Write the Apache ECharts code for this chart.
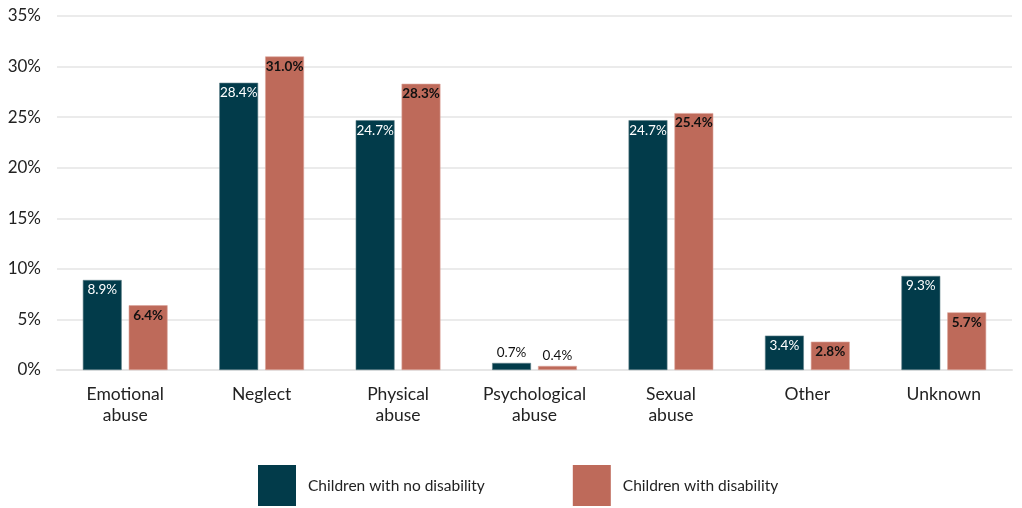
<!DOCTYPE html>
<html>
<head>
<meta charset="utf-8">
<script src="https://cdn.jsdelivr.net/npm/echarts@6/dist/echarts.min.js"></script>
<style>
  html, body { margin: 0; padding: 0; background: #fff; }
  #chart { width: 1022px; height: 508px; }
</style>
</head>
<body>
<div id="chart"></div>
<script>
const categories = ['Emotional\nabuse', 'Neglect', 'Physical\nabuse', 'Psychological\nabuse', 'Sexual\nabuse', 'Other', 'Unknown'];
const noDisability = [8.9, 28.4, 24.7, 0.7, 24.7, 3.4, 9.3];
const withDisability = [6.4, 31.0, 28.3, 0.4, 25.4, 2.8, 5.7];
const seriesNames = ['Children with no disability', 'Children with disability'];

const FONT = 'Lato';

// small values get their label above the bar
function toData(values, insideColor, weight) {
  return values.map(v => {
    if (v < 2) {
      return { value: v, label: { position: 'top', color: '#111', fontWeight: 'normal' } };
    }
    return { value: v, label: { color: insideColor, fontWeight: weight } };
  });
}

let chart = echarts.init(document.getElementById('chart'));
let option = {
  animation: false,
  grid: { left: 57, right: 10, top: 16, bottom: 138 },
  legend: {
    bottom: -3,
    left: 253,
    itemWidth: 38,
    itemHeight: 41,
    itemGap: 88,
    icon: 'rect',
    itemStyle: { borderWidth: 0 },
    textStyle: { fontFamily: FONT, fontSize: 15.5, color: '#222', padding: [0, 0, 0, 7] },
    data: seriesNames
  },
  xAxis: {
    type: 'category',
    data: categories,
    axisLine: { show: true, lineStyle: { color: '#e6e6e6', width: 2 } },
    axisTick: { show: false },
    axisLabel: { fontFamily: FONT, fontSize: 17.5, color: '#222', lineHeight: 21, margin: 14 }
  },
  yAxis: {
    type: 'value',
    min: 0,
    max: 35,
    interval: 5,
    axisLabel: {
      fontFamily: FONT, fontSize: 17, color: '#222', margin: 16,
      formatter: v => v + '%'
    },
    splitLine: { lineStyle: { color: '#ebebeb', width: 2 } }
  },
  series: [
    {
      name: seriesNames[0],
      type: 'bar',
      barWidth: '28.5%',
      barGap: '18%',
      itemStyle: { color: '#023b4a', borderColor: '#5f7f88', borderWidth: 0.6 },
      label: {
        show: true, position: 'insideTop', distance: 3,
        fontFamily: FONT, fontSize: 13.5,
        formatter: p => p.value.toFixed(1) + '%'
      },
      data: toData(noDisability, '#ffffff', 'normal')
    },
    {
      name: seriesNames[1],
      type: 'bar',
      barWidth: '28.5%',
      itemStyle: { color: '#be6a5a', borderColor: '#dba59a', borderWidth: 0.6 },
      label: {
        show: true, position: 'insideTop', distance: 3,
        fontFamily: FONT, fontSize: 13.5,
        formatter: p => p.value.toFixed(1) + '%'
      },
      data: toData(withDisability, '#111111', 'bold')
    }
  ]
};
option && chart.setOption(option);
</script>
</body>
</html>
